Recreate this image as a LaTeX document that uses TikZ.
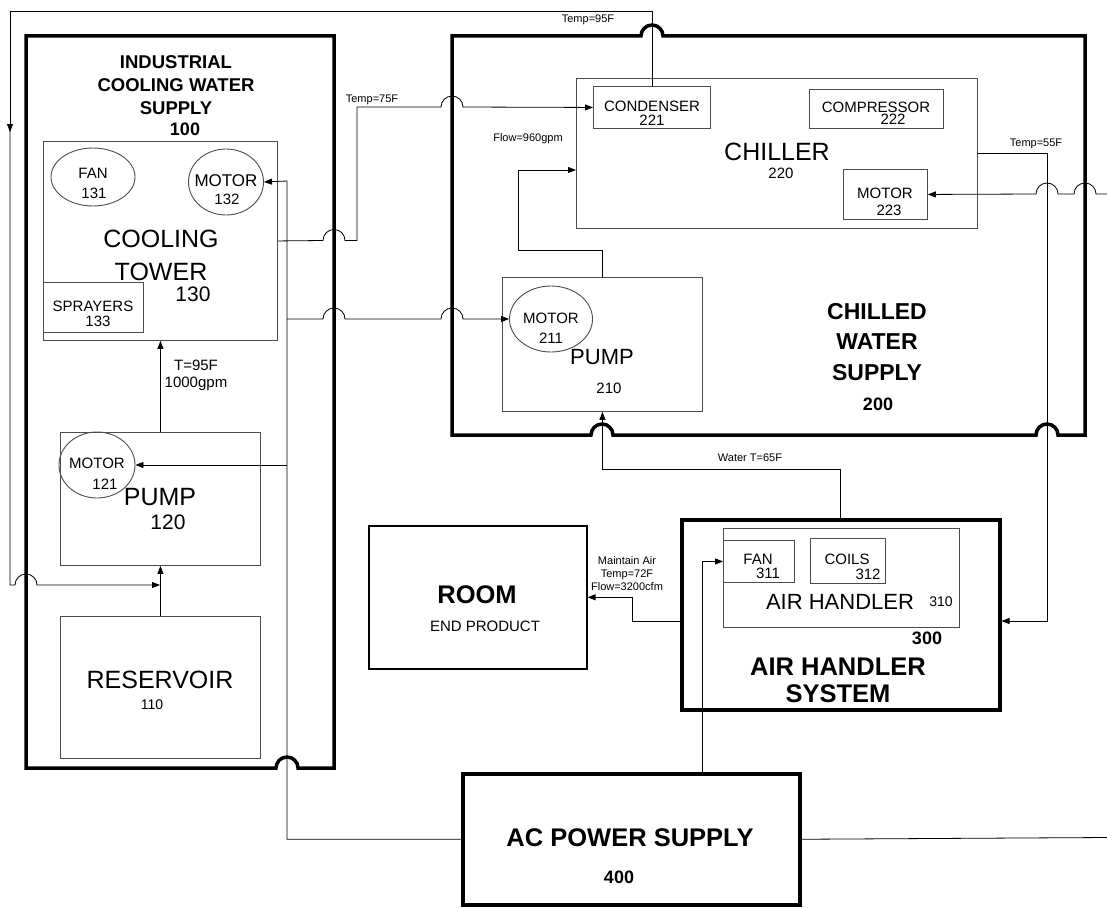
\documentclass[tikz,border=0pt]{standalone}
\usepackage{fontspec}
\setmainfont{Liberation Sans}
\usetikzlibrary{positioning,arrows.meta,calc,shapes.geometric}
\tikzset{
  sysbox/.style={draw,line width=3.5pt,inner sep=0pt},
  unitbox/.style={draw=black!70,line width=0.9pt,inner sep=0pt},
  partell/.style={unitbox,ellipse},
  roombox/.style={draw,line width=1.6pt,inner sep=0pt},
  border/.style={line width=3.5pt},
  ln/.style={-{Triangle[length=8pt,width=6pt]},line width=0.8pt},
  wire/.style={line width=0.8pt},
  tag/.style={font=\fontsize{11}{13}\selectfont,inner sep=0pt,align=center},
  txt/.style={font=\fontsize{15}{17}\selectfont,inner sep=0pt,align=center},
  mid/.style={font=\fontsize{22}{26}\selectfont,inner sep=0pt,align=center},
  big/.style={font=\fontsize{25}{33}\selectfont,inner sep=0pt,align=center},
  headS/.style={font=\bfseries\fontsize{18.5}{23}\selectfont,inner sep=0pt,align=center},
  headM/.style={font=\bfseries\fontsize{23}{30.5}\selectfont,inner sep=0pt,align=center},
  headL/.style={font=\bfseries\fontsize{25.5}{27}\selectfont,inner sep=0pt,align=center},
  num/.style={font=\bfseries\fontsize{18}{20}\selectfont,inner sep=0pt},
}

\begin{document}
\begin{tikzpicture}[x=1pt,y=-1pt]
\useasboundingbox (0,0) rectangle (1107,907);

% industrial cooling water supply
\node[unitbox,minimum width=234pt,minimum height=199pt,anchor=north west] (tower) at (43,141) {};
\node[partell,minimum width=84pt,minimum height=58pt] (fan131) at (93,177) {};
\node[partell,minimum width=75pt,minimum height=66pt] (mot132) at (226,182) {};
\node[unitbox,minimum width=100pt,minimum height=50pt,anchor=north west] (spray) at (43,282) {};
\node[unitbox,minimum width=200pt,minimum height=133pt,anchor=north west] (pump1) at (60,432) {};
\node[partell,minimum width=76pt,minimum height=66pt] (mot121) at (97,465) {};
\node[unitbox,minimum width=200pt,minimum height=142pt,anchor=north west] (res) at (60,616) {};

% chilled water supply
\node[unitbox,minimum width=401pt,minimum height=150pt,anchor=north west] (chill) at (576,78) {};
\node[unitbox,minimum width=117pt,minimum height=42pt,anchor=north west] (cond) at (593,86) {};
\node[unitbox,minimum width=134pt,minimum height=39pt,anchor=north west] (comp) at (809,89) {};
\node[unitbox,minimum width=84pt,minimum height=50pt,anchor=north west] (mot223) at (843,169) {};
\node[unitbox,minimum width=200pt,minimum height=134pt,anchor=north west] (pump2) at (502,277) {};
\node[partell,minimum width=83pt,minimum height=66pt] (mot211) at (551,319) {};

% air handler, room, power
\node[sysbox,minimum width=318pt,minimum height=190pt,anchor=north west] (ahs) at (680,518) {};
\node[unitbox,minimum width=236pt,minimum height=99pt,anchor=north west] (ah310) at (723,528) {};
\node[unitbox,minimum width=71pt,minimum height=42pt,anchor=north west] (fan311) at (723,540) {};
\node[unitbox,minimum width=75pt,minimum height=45pt,anchor=north west] (coil312) at (810,538) {};
\node[roombox,minimum width=218pt,minimum height=143pt,anchor=north west] (room) at (368,525) {};
\node[sysbox,minimum width=337pt,minimum height=131pt,anchor=north west] (acps) at (461,772) {};

% system borders with line jumps
\draw[border] (26,36) -- (334,36) -- (334,768) -- (298,768)
      arc[start angle=0,end angle=180,radius=11pt] -- (26,768) -- cycle;
\draw[border] (452,435) -- (452,36) -- (641,36)
      arc[start angle=180,end angle=0,radius=11pt] -- (1085,36) -- (1085,435) -- (1058,435)
      arc[start angle=0,end angle=180,radius=11pt] -- (613,435)
      arc[start angle=0,end angle=180,radius=11pt] -- cycle;

% texts
\node[headS] (t100) at (176,85) {INDUSTRIAL\\COOLING WATER\\SUPPLY};
\node[num] (n100) at (185,129) {100};
\node[big] (ttower) at (161,255) {COOLING\\TOWER};
\node[font=\fontsize{21}{24}\selectfont,inner sep=0pt] (n130) at (193,294) {130};
\node[txt] (tfan131) at (93,173) {FAN};
\node[txt] (n131) at (94,193) {131};
\node[txt,font=\fontsize{17}{19}\selectfont] (tmot132) at (226,181) {MOTOR};
\node[txt] (n132) at (227,199) {132};
\node[txt] (tspray) at (93,306) {SPRAYERS};
\node[txt] (n133) at (98,321) {133};
\node[txt] (tflow1) at (196,375) {T=95F\\1000gpm};
\node[txt] (tmot121) at (97,463) {MOTOR};
\node[txt] (n121) at (105,484) {121};
\node[big] (tpump1) at (160,497) {PUMP};
\node[font=\fontsize{21}{24}\selectfont,inner sep=0pt] (n120) at (168,522) {120};
\node[big] (tres) at (160,680) {RESERVOIR};
\node[txt,font=\fontsize{14}{16}\selectfont] (n110) at (152,705) {110};

\node[big] (tchill) at (777,152) {CHILLER};
\node[txt] (n220) at (781,173) {220};
\node[txt] (tcond) at (652,106) {CONDENSER};
\node[txt] (n221) at (652,120) {221};
\node[txt] (tcomp) at (876,107) {COMPRESSOR};
\node[txt] (n222) at (893,119) {222};
\node[txt] (tmot223) at (885,193) {MOTOR};
\node[txt] (n223) at (889,210) {223};
\node[txt] (tmot211) at (551,318) {MOTOR};
\node[txt] (n211) at (551,338) {211};
\node[mid] (tpump2) at (602,357) {PUMP};
\node[txt] (n210) at (609,388) {210};
\node[headM] (t200) at (877,342) {CHILLED\\WATER\\SUPPLY};
\node[num] (n200) at (878,404) {200};

\node[mid] (tah310) at (840,602) {AIR HANDLER};
\node[txt,font=\fontsize{14}{16}\selectfont] (n310) at (941,602) {310};
\node[txt] (tfan311) at (758,559) {FAN};
\node[txt] (n311) at (768,573) {311};
\node[txt] (tcoil) at (847,559) {COILS};
\node[txt] (n312) at (868,574) {312};
\node[num] (n300) at (927,638) {300};
\node[headL] (t300) at (838,680) {AIR HANDLER\\SYSTEM};
\node[headL] (troom) at (477,595) {ROOM};
\node[txt] (tend) at (485,626) {END PRODUCT};
\node[headL] (tac) at (630,838) {AC POWER SUPPLY};
\node[num] (n400) at (619,877) {400};

\node[tag] (l95) at (588,20) {Temp=95F};
\node[tag] (l75) at (372,100) {Temp=75F};
\node[tag] (l960) at (528,139) {Flow=960gpm};
\node[tag] (l55) at (1036,144) {Temp=55F};
\node[tag] (l65) at (750,458) {Water T=65F};
\node[tag] (lair) at (627,574) {Maintain Air\\Temp=72F\\Flow=3200cfm};

% cooling water loop
\coordinate (mix) at (160,585);
\draw[ln] (res.north) -- (pump1.south);
\draw[ln] (pump1.north) -- (tower.south);
\draw[ln] (tower.east) -- (323,240.5) arc[start angle=180,end angle=0,radius=11pt]
      -- (357,240.5) |- (441,107) arc[start angle=180,end angle=0,radius=11pt] -- (cond.west);
\draw[ln] (cond.north) |- (10,11) -- (10,132);
\draw[ln] (10,130) -- (10,585) -- (15,585) arc[start angle=180,end angle=0,radius=11pt] -- (mix);

% chilled water loop
\draw[ln] (pump2.north) -- ++(0,-27) -| (518,170) -- (chill.west |- 0,170);
\draw[ln] (chill.east) -| (1047,621) -- (ahs.east |- 0,621);
\draw[ln] (ahs.north) -- ++(0,-49) -| (pump2.south);
\draw[ln] (ahs.west |- 0,621) -| ($(room.east)+(45,0)$) -- (room.east);

% power
\coordinate (bus) at (287,181);
\draw[ln] (acps.west) -| (bus) -- (mot132.east);
\draw[ln] (bus |- mot121.east) -- (mot121.east);
\draw[ln] (bus |- mot211.west) -- (323,319) arc[start angle=180,end angle=0,radius=11pt]
      -- (441,319) arc[start angle=180,end angle=0,radius=11pt] -- (mot211.west);
\draw[ln] (acps.north -| 702,0) |- (fan311.west);
\draw[ln] (1107,194) -- (1096,194) arc[start angle=0,end angle=180,radius=11pt]
      -- (1058,194) arc[start angle=0,end angle=180,radius=11pt] -- (mot223.east);
\draw[wire] (acps.east) -- (1107,837.5);

\end{tikzpicture}
\end{document}
